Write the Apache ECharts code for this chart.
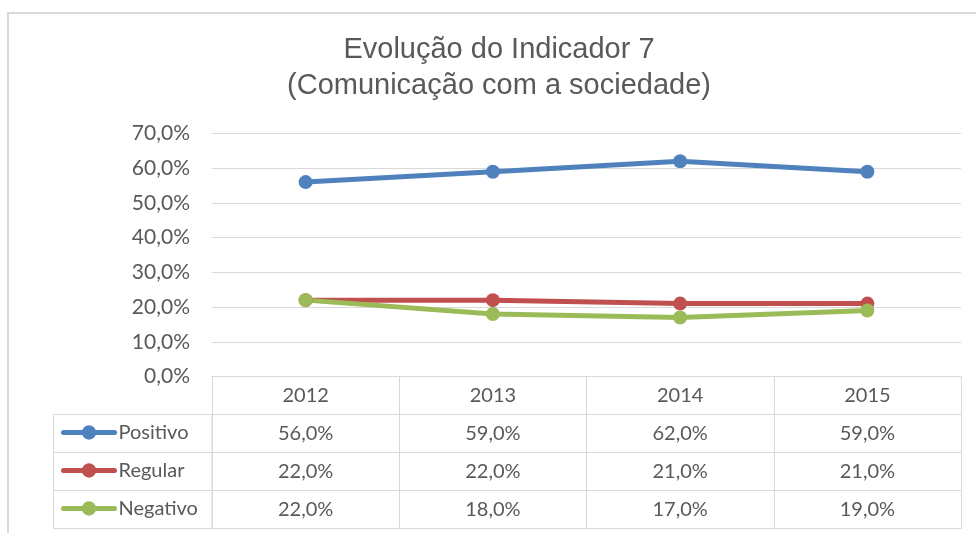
<!DOCTYPE html>
<html>
<head>
<meta charset="utf-8">
<script src="https://cdn.jsdelivr.net/npm/echarts@6/dist/echarts.min.js"></script>
<style>
  html, body { margin: 0; padding: 0; background: #fff; }
  #chart { width: 976px; height: 533px; }
</style>
</head>
<body>
<div id="chart"></div>
<script>
const years = ["2012", "2013", "2014", "2015"];
const seriesNames = ["Positivo", "Regular", "Negativo"];
const positivo = [56, 59, 62, 59];
const regular = [22, 22, 21, 21];
const negativo = [22, 18, 17, 19];
const yTicks = { min: 0, max: 70, step: 10 };

const colors = ["#4f81bd", "#c0504d", "#9bbb59"];
const values = [positivo, regular, negativo];
const grey = "#d9d9d9";
const textColor = "#595959";
const font = "Lato";

// layout of plot + data table
const gridLeft = 212, gridRight = 15, gridTop = 133.5, gridBottomY = 376.5;
const rowH = 38;
const legendCellX = 53.5;

const fmt = v => v.toFixed(1).replace(".", ",") + "%";

const el = document.getElementById("chart");
const chart = echarts.init(el);

const lineStyle = { color: grey, width: 1 };

// first table row: years, then one row per series, then the closing bottom line
const xAxes = [{
  type: "category",
  data: years,
  offset: 0,
  axisLine: { lineStyle },
  axisTick: { show: true, length: rowH, lineStyle },
  axisLabel: { interval: 0, margin: rowH / 2, verticalAlign: "middle", color: textColor, fontFamily: font, fontSize: 20 }
}];
values.forEach((arr, i) => {
  xAxes.push({
    type: "category",
    data: years,
    position: "bottom",
    offset: rowH * (i + 1),
    axisLine: { lineStyle },
    axisTick: { show: true, length: rowH, lineStyle },
    axisLabel: {
      interval: 0, margin: rowH / 2, verticalAlign: "middle",
      color: textColor, fontFamily: font, fontSize: 20,
      formatter: (v, idx) => fmt(arr[idx])
    }
  });
});
xAxes.push({
  type: "category",
  data: years,
  position: "bottom",
  offset: rowH * 4,
  axisLine: { lineStyle },
  axisTick: { show: false },
  axisLabel: { show: false }
});

// legend cells on the left of the table
const cells = seriesNames.map((n, i) => ({
  type: "rect",
  shape: { x: legendCellX, y: gridBottomY + rowH * (i + 1), width: gridLeft - legendCellX, height: rowH },
  style: { fill: "none", stroke: grey, lineWidth: 1 },
  silent: true
}));

const option = {
  backgroundColor: "#fff",
  animation: false,
  title: {
    text: "Evolução do Indicador 7\n(Comunicação com a sociedade)",
    left: 499,
    top: 32,
    padding: 0,
    textAlign: "center",
    textStyle: { fontFamily: "Liberation Sans", fontSize: 29, fontWeight: "normal", color: textColor, lineHeight: 36 }
  },
  legend: seriesNames.map((n, i) => ({
    data: [n],
    orient: "vertical",
    left: 61,
    top: gridBottomY + rowH * (i + 1) + rowH / 2 - 11,
    padding: 0,
    itemWidth: 51,
    itemHeight: 18,
    itemGap: 0,
    selectedMode: false,
    lineStyle: { width: 5, cap: "round" },
    textStyle: { color: textColor, fontFamily: font, fontSize: 20, padding: [0, 0, 0, -1] }
  })),
  grid: { left: gridLeft, right: gridRight, top: gridTop, bottom: 533 - gridBottomY },
  xAxis: xAxes,
  yAxis: {
    type: "value",
    min: yTicks.min,
    max: yTicks.max,
    interval: yTicks.step,
    axisLine: { show: false },
    axisTick: { show: false },
    splitLine: { lineStyle },
    axisLabel: { formatter: fmt, margin: 22, color: textColor, fontFamily: font, fontSize: 21 }
  },
  graphic: [
    {
      type: "polyline",
      shape: { points: [[8, 600], [8, 13], [1000, 13]] },
      style: { fill: "none", stroke: grey, lineWidth: 2 },
      silent: true
    },
    ...cells
  ],
  series: seriesNames.map((n, i) => ({
    name: n,
    type: "line",
    data: values[i],
    xAxisIndex: 0,
    symbol: "circle",
    symbolSize: 14,
    color: colors[i],
    lineStyle: { width: 5, color: colors[i] },
    itemStyle: { color: colors[i] }
  }))
};

chart.setOption(option);
</script>
</body>
</html>
